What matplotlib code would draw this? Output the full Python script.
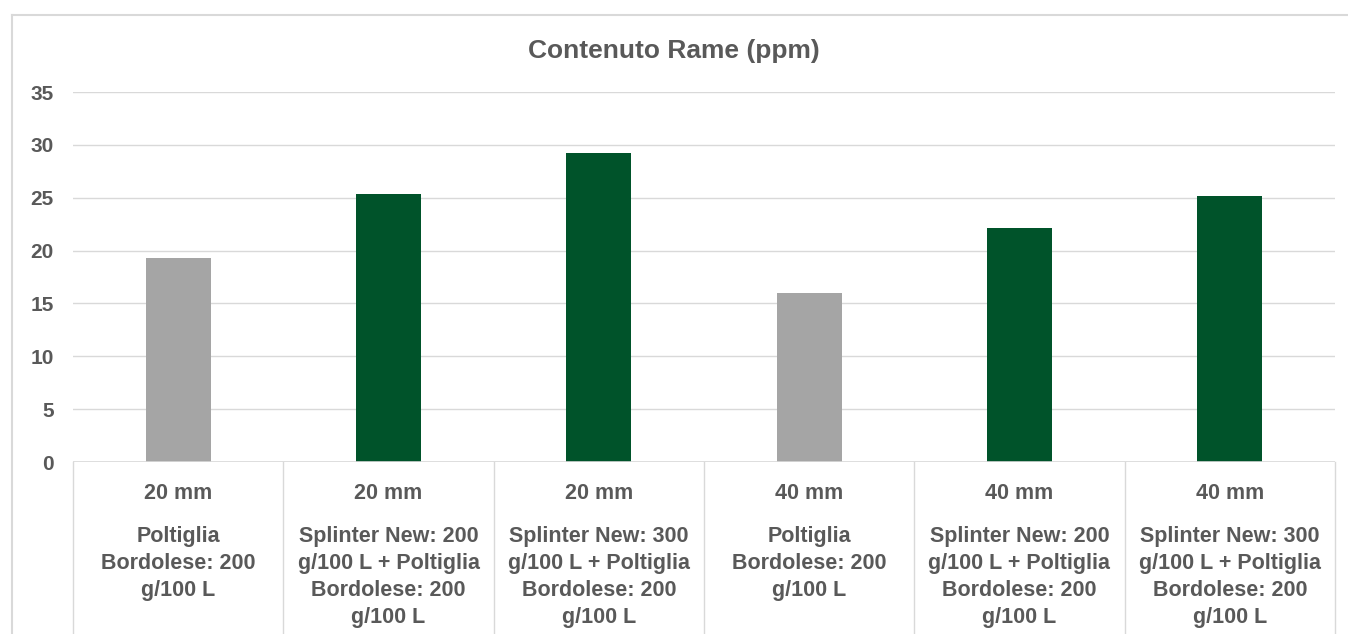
import matplotlib
matplotlib.use('Agg')
import matplotlib.pyplot as plt
from matplotlib.lines import Line2D

plt.rcParams['font.family'] = ['Liberation Sans', 'DejaVu Sans']
plt.rcParams['font.weight'] = 'bold'

spessori = ['20 mm', '20 mm', '20 mm', '40 mm', '40 mm', '40 mm']
trattamenti = [
    'Poltiglia\nBordolese: 200\ng/100 L',
    'Splinter New: 200\ng/100 L + Poltiglia\nBordolese: 200\ng/100 L',
    'Splinter New: 300\ng/100 L + Poltiglia\nBordolese: 200\ng/100 L',
    'Poltiglia\nBordolese: 200\ng/100 L',
    'Splinter New: 200\ng/100 L + Poltiglia\nBordolese: 200\ng/100 L',
    'Splinter New: 300\ng/100 L + Poltiglia\nBordolese: 200\ng/100 L',
]
rame = [19.3, 25.35, 29.25, 16.0, 22.15, 25.2]
colori = ['#a5a5a5', '#00532a', '#00532a', '#a5a5a5', '#00532a', '#00532a']

testo = '#595959'
griglia = '#d9d9d9'

W, H = 1348, 634
fig = plt.figure(figsize=(W / 100, H / 100), dpi=100, facecolor='white')
ax = fig.add_axes([73 / W, 1 - 462 / H, (1335 - 73) / W, 370 / H])

x = list(range(len(rame)))
ax.bar(x, rame, width=0.31, color=colori, zorder=3)

ax.set_xlim(-0.5, len(rame) - 0.5)
ax.set_ylim(0, 35)
ax.set_yticks(range(0, 36, 5))
ax.tick_params(axis='y', length=0, pad=14, labelsize=15, labelcolor=testo)
ax.set_xticks([])
ax.grid(axis='y', color=griglia, lw=1, zorder=0)
for s in ax.spines.values():
    s.set_visible(False)
ax.axhline(0, color=griglia, lw=1.2, zorder=4)

tr = ax.get_xaxis_transform()
# separatori verticali della legenda categorie
for b in [i - 0.5 for i in range(len(rame) + 1)]:
    ax.plot([b, b], [0, -0.47], color=griglia, lw=1, transform=tr, clip_on=False)

for i in x:
    ax.text(i, -0.086, spessori[i], transform=tr, ha='center', va='center',
            fontsize=15.5, color=testo)
    ax.text(i, -0.174, trattamenti[i], transform=tr, ha='center', va='top',
            fontsize=15.5, color=testo, linespacing=1.37)

fig.text(0.5, 1 - 51 / H, 'Contenuto Rame (ppm)', ha='center', va='center',
         fontsize=19, color=testo)

# cornice del grafico
fig.add_artist(Line2D([12 / W, 1], [1 - 15 / H, 1 - 15 / H], color='#d9d9d9', lw=1.5))
fig.add_artist(Line2D([12 / W, 12 / W], [0, 1 - 15 / H], color='#d9d9d9', lw=1.5))

fig.savefig('out.png', dpi=100, facecolor='white')
